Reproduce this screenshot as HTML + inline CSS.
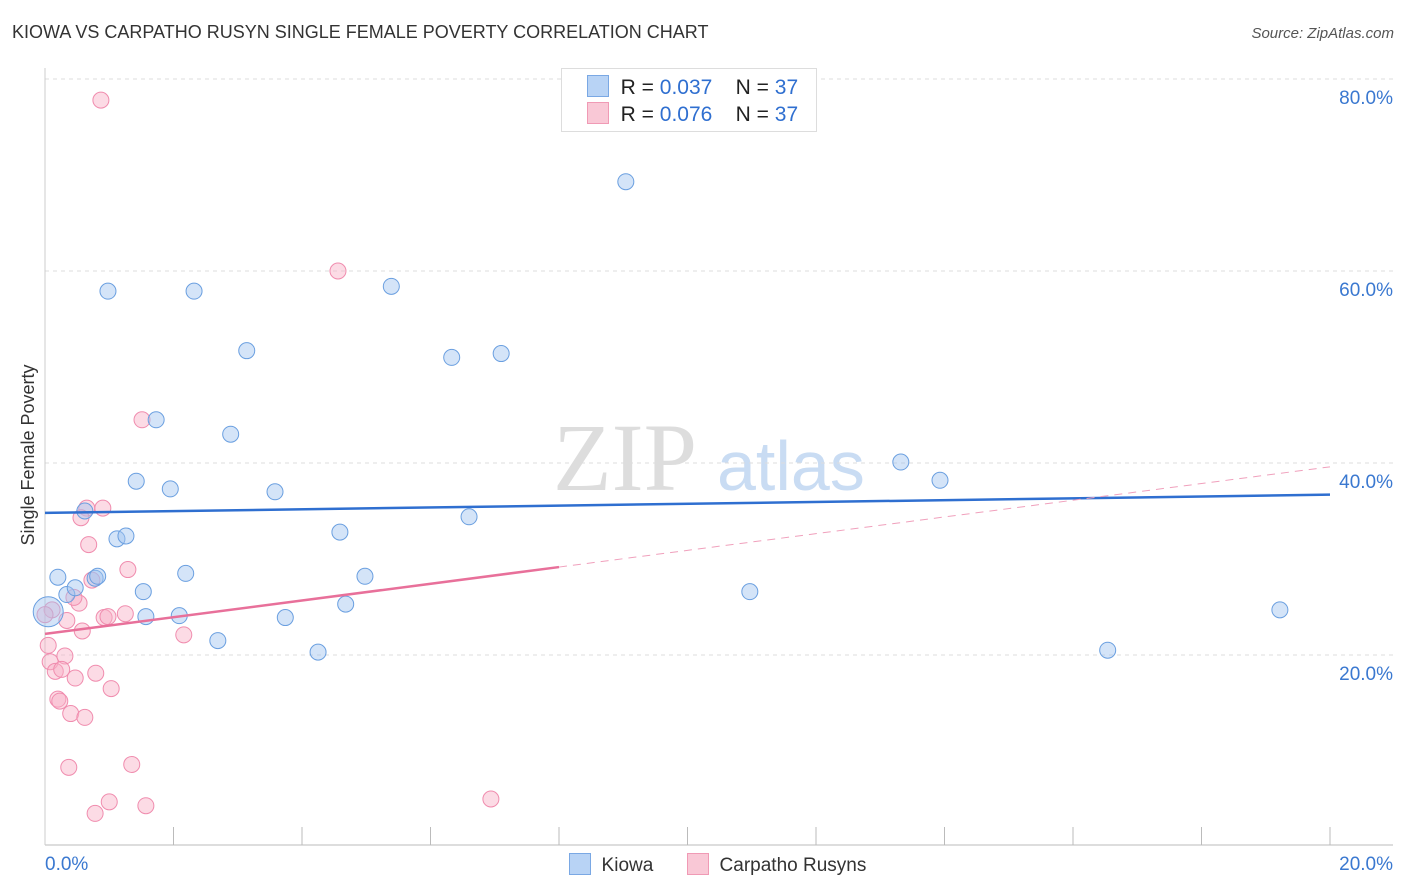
<!DOCTYPE html>
<html><head><meta charset="utf-8"><style>
body{margin:0;width:1406px;height:892px;background:#fff;font-family:"Liberation Sans",sans-serif;overflow:hidden;position:relative}
.t{position:absolute;white-space:nowrap}
</style></head><body>
<div class="t" style="left:12px;top:22px;font-size:18px;color:#333">KIOWA VS CARPATHO RUSYN SINGLE FEMALE POVERTY CORRELATION CHART</div>
<div class="t" style="right:12px;top:25px;font-size:15px;color:#555;font-style:italic">Source: ZipAtlas.com</div>
<svg id="chart" width="1406" height="892" style="position:absolute;left:0;top:0">
<text x="553" y="490" font-family="Liberation Serif,serif" font-size="96" fill="#ddd">ZIP</text>
<text x="717" y="490" font-family="Liberation Sans,sans-serif" font-size="70" fill="#c9dcf3">atlas</text>
<g id="grid"></g><g id="pts"></g><g id="lines"></g>
<text transform="translate(34,455) rotate(-90)" text-anchor="middle" font-size="18" fill="#333">Single Female Poverty</text>
</svg>
<div style="position:absolute;left:561px;top:68px;width:254px;height:62px;border:1px solid #ddd;background:#fff"></div>
<div class="t" style="left:587px;top:75px;font-size:21px;color:#222"><span style="display:inline-block;width:20px;height:20px;background:#b8d3f5;border:1px solid #7aa8e4;vertical-align:-3px"></span>&nbsp; R = <span style="color:#2f6fd0">0.037</span>&nbsp;&nbsp;&nbsp; N = <span style="color:#2f6fd0">37</span></div>
<div class="t" style="left:587px;top:102px;font-size:21px;color:#222"><span style="display:inline-block;width:20px;height:20px;background:#f9c8d6;border:1px solid #f09ab5;vertical-align:-3px"></span>&nbsp; R = <span style="color:#2f6fd0">0.076</span>&nbsp;&nbsp;&nbsp; N = <span style="color:#2f6fd0">37</span></div>
<div class="t" style="left:569px;top:853px;font-size:19px;color:#333"><span style="display:inline-block;width:20px;height:20px;background:#b8d3f5;border:1px solid #7aa8e4;vertical-align:-4px"></span>&nbsp; Kiowa</div>
<div class="t" style="left:687px;top:853px;font-size:19px;color:#333"><span style="display:inline-block;width:20px;height:20px;background:#f9c8d6;border:1px solid #f09ab5;vertical-align:-4px"></span>&nbsp; Carpatho Rusyns</div>
<script>
const yTicks=[20,40,60,80];
const yTickLabels=["20.0%","40.0%","60.0%","80.0%"];
const kiowaX=[0.05,0.2,0.34,0.47,0.62,0.78,0.82,0.98,1.12,1.26,1.42,1.53,1.57,1.73,1.95,2.09,2.19,2.32,2.69,2.89,3.14,3.58,3.74,4.25,4.59,4.68,4.98,5.39,6.33,6.6,7.1,9.04,10.97,13.32,13.93,16.54,19.22];
const kiowaY=[24.5,28.1,26.3,27.0,35.0,28.0,28.2,57.9,32.1,32.4,38.1,26.6,24.0,44.5,37.3,24.1,28.5,57.9,21.5,43.0,51.7,37.0,23.9,20.3,32.8,25.3,28.2,58.4,51.0,34.4,51.4,69.3,26.6,40.1,38.2,20.5,24.7];
const carpX=[0.87,4.56,1.51,0.65,0.9,0.56,0.68,1.29,0.73,0.53,0.45,0.34,0.58,0.92,0.98,1.25,2.16,0.05,0.08,0.31,0.16,0.26,0.79,0.47,1.03,0.2,0.23,0.4,0.62,0.37,1.35,1.0,1.57,0.78,6.94,0.11,0.0];
const carpY=[77.8,60.0,44.5,35.3,35.3,34.3,31.5,28.9,27.8,25.4,26.0,23.6,22.5,23.9,24.0,24.3,22.1,21.0,19.3,19.9,18.3,18.5,18.1,17.6,16.5,15.4,15.2,13.9,13.5,8.3,8.6,4.7,4.3,3.5,5.0,24.7,24.2];
const kiowaTrend=[34.8,36.7];
const carpTrend=[22.2,39.6];
const NS='http://www.w3.org/2000/svg';
const X=v=>45+v/20*1285, Y=v=>847-v*9.6;
function mk(tag,at,parent){const e=document.createElementNS(NS,tag);for(const k in at)e.setAttribute(k,at[k]);document.getElementById(parent).appendChild(e);return e;}
yTicks.forEach((t,i)=>{
 const g=mk('line',{x1:45,x2:1393,y1:Y(t),y2:Y(t),stroke:'#ddd','stroke-dasharray':'4,4'},'grid');
 
 
 const l=mk('text',{x:1393,y:Y(t)+25,'text-anchor':'end','font-size':19,fill:'#3a78d0'},'grid');
 l.textContent=yTickLabels[i];
 
 
});
const ax=mk('line',{x1:45,x2:1393,y1:845,y2:845,stroke:'#bbb'},'grid');


const ay=mk('line',{x1:45,x2:45,y1:68,y2:845,stroke:'#ccc'},'grid');


for(let i=1;i<=10;i++){const tk=mk('line',{x1:X(i*2),x2:X(i*2),y1:827,y2:845,stroke:'#bbb'},'grid');
 
 }
[[0,'0.0%','start',45],[20,'20.0%','end',1393]].forEach(a=>{const l=mk('text',{x:a[3],y:870,'text-anchor':a[2],'font-size':19,fill:'#3a78d0'},'grid');l.textContent=a[1];
 
 });
carpX.forEach((x,i)=>{const c=mk('circle',{cx:X(x),cy:Y(carpY[i]),r:8,fill:'rgba(248,175,198,0.45)',stroke:'#f08cae','stroke-width':1},'pts');
 
 });
kiowaX.forEach((x,i)=>{const c=mk('circle',{cx:X(x),cy:Y(kiowaY[i]),r:i===0?15:8,fill:'rgba(160,196,240,0.45)',stroke:'#6a9fe0','stroke-width':1},'pts');
 
 });
const kl=mk('line',{x1:X(0),y1:Y(kiowaTrend[0]),x2:X(20),y2:Y(kiowaTrend[1]),stroke:'#2f6fd0','stroke-width':2.5},'lines');


const cAt=v=>carpTrend[0]+(carpTrend[1]-carpTrend[0])*v/20;
const cs=mk('line',{x1:X(0),y1:Y(cAt(0)),x2:X(8),y2:Y(cAt(8)),stroke:'#e8709a','stroke-width':2.5},'lines');


const cd=mk('line',{x1:X(8),y1:Y(cAt(8)),x2:X(20),y2:Y(cAt(20)),stroke:'#f0a0bc','stroke-width':1,'stroke-dasharray':'8,6'},'lines');


</script>
</body></html>
